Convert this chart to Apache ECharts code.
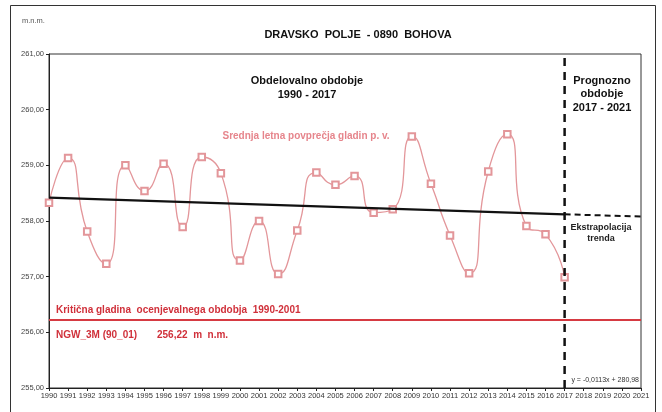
<!DOCTYPE html>
<html><head><meta charset="utf-8">
<script src="https://cdn.jsdelivr.net/npm/echarts@6/dist/echarts.min.js"></script>
<style>html,body{margin:0;padding:0;background:#fff}#c{width:662px;height:412px}</style>
</head><body><div id="c"></div>
<script>
const years = [1990,1991,1992,1993,1994,1995,1996,1997,1998,1999,2000,2001,2002,2003,2004,2005,2006,2007,2008,2009,2010,2011,2012,2013,2014,2015,2016,2017];
const levels = [258.33,259.13,257.81,257.23,259.00,258.54,259.03,257.89,259.15,258.86,257.29,258.00,257.05,257.83,258.87,258.65,258.81,258.15,258.21,259.52,258.67,257.74,257.06,258.89,259.56,257.91,257.76,256.99];
const trendYears = [1990,2017];
const trendValues = [258.42,258.12];
const extrapYears = [2017,2021];
const extrapValues = [258.12,258.08];
const criticalLevel = 256.22;
const axisYears = [1990,2021];
const splitYear = 2017;
const yRange = [255,261];

const chart = echarts.init(document.getElementById('c'));
const fam = 'Liberation Sans, Arial, sans-serif';
chart.setOption({
  animation:false,
  title:{text:'DRAVSKO  POLJE  - 0890  BOHOVA',left:353,textAlign:'center',top:24,
    textStyle:{fontFamily:fam,fontSize:11,fontWeight:'bold',color:'#111'}},
  grid:{left:49,right:21,top:54,bottom:24,show:true,borderColor:'#333',borderWidth:1},
  xAxis:{type:'value',min:axisYears[0],max:axisYears[1],interval:1,
    axisLine:{lineStyle:{color:'#222'}},axisTick:{show:true,length:3,lineStyle:{color:'#222'}},
    splitLine:{show:false},
    axisLabel:{fontFamily:fam,fontSize:7.5,color:'#333',margin:4,hideOverlap:false,formatter:v=>String(v)}},
  yAxis:{type:'value',min:yRange[0],max:yRange[1],interval:1,
    axisLine:{show:true,lineStyle:{color:'#222'}},axisTick:{show:true,length:3,lineStyle:{color:'#222'}},
    splitLine:{show:false},
    axisLabel:{fontFamily:fam,fontSize:7.5,color:'#444',margin:5,formatter:v=>v.toFixed(2).replace('.',',')}},
  series:[
    {type:'line',data:years.map((y,i)=>[y,levels[i]]),smooth:0.6,symbol:'emptyRect',symbolSize:6.5,
      lineStyle:{color:'#e3969a',width:1.3},itemStyle:{color:'#e3969a',borderColor:'#e3969a',borderWidth:1},z:3},
    {type:'line',data:trendYears.map((y,i)=>[y,trendValues[i]]),symbol:'none',
      lineStyle:{color:'#111',width:2.2},z:4},
    {type:'line',data:extrapYears.map((y,i)=>[y,extrapValues[i]]),symbol:'none',
      lineStyle:{color:'#111',width:2,type:[6,4]},z:4},
    {type:'line',data:axisYears.map(y=>[y,criticalLevel]),symbol:'none',
      lineStyle:{color:'#d63a42',width:2},z:2},
    {type:'line',data:yRange.map(v=>[splitYear,v]),symbol:'none',
      lineStyle:{color:'#111',width:2.5,type:[8,6]},z:5}
  ],
  graphic:[
    {type:'rect',shape:{x:10.5,y:5.5,width:645,height:420},style:{fill:'none',stroke:'#333',lineWidth:1},silent:true},
    {type:'text',left:22,top:17,style:{text:'m.n.m.',font:'7.5px '+fam,fill:'#555'}},
    {type:'text',x:307,y:74,style:{text:'Obdelovalno obdobje\n1990 - 2017',font:'bold 11px '+fam,fill:'#111',align:'center',lineHeight:14}},
    {type:'text',x:306,y:131,style:{text:'Srednja letna povprečja gladin p. v.',font:'bold 10px '+fam,fill:'#e6858c',align:'center'}},
    {type:'text',x:602,y:74,style:{text:'Prognozno\nobdobje\n2017 - 2021',font:'bold 11px '+fam,fill:'#111',align:'center',lineHeight:13.5}},
    {type:'text',x:601,y:222,style:{text:'Ekstrapolacija\ntrenda',font:'bold 9px '+fam,fill:'#222',align:'center',lineHeight:11}},
    {type:'text',x:56,y:305,style:{text:'Kritična gladina  ocenjevalnega obdobja  1990-2001',font:'bold 10px '+fam,fill:'#d0303a'}},
    {type:'text',x:56,y:330,style:{text:'NGW_3M (90_01)',font:'bold 10px '+fam,fill:'#d0303a'}},
    {type:'text',x:157,y:330,style:{text:'256,22  m  n.m.',font:'bold 10px '+fam,fill:'#d0303a'}},
    {type:'text',x:639,y:377,style:{text:'y = -0,0113x + 280,98',font:'7px '+fam,fill:'#333',align:'right'}}
  ]
});
</script></body></html>
